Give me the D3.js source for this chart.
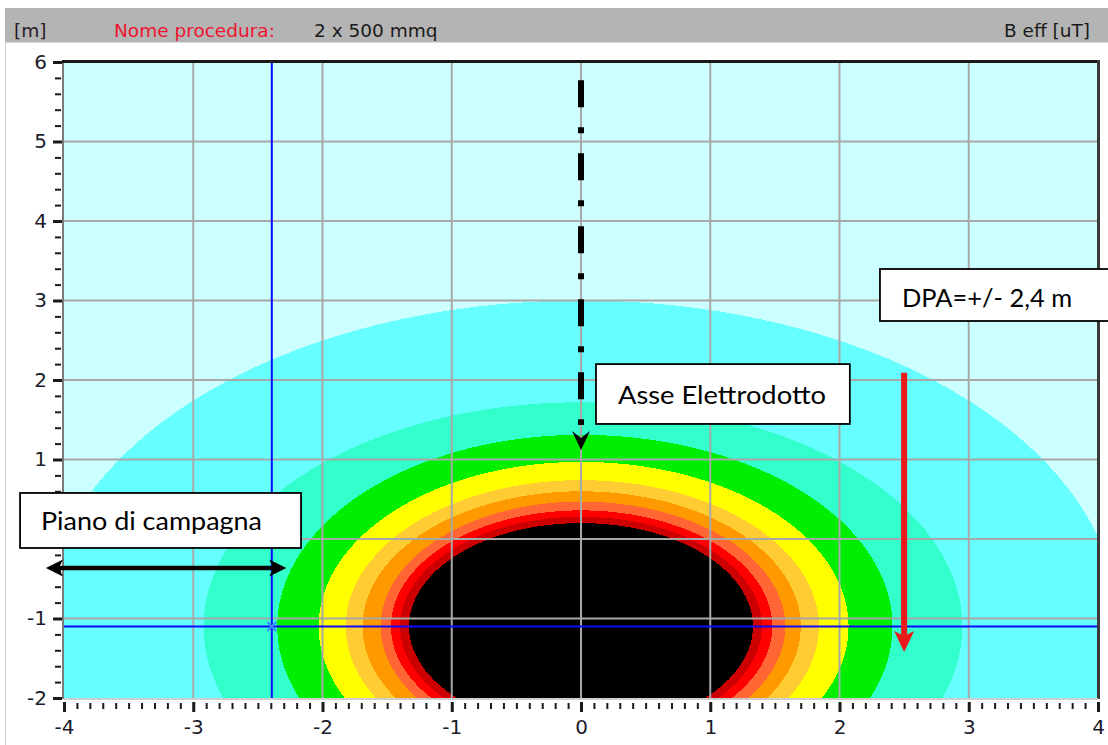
<!DOCTYPE html>
<html>
<head>
<meta charset="utf-8">
<script src="https://cdn.jsdelivr.net/npm/d3@7"></script>
<style>
  html, body { margin: 0; padding: 0; background: #fff; }
  svg { display: block; }
</style>
</head>
<body>
<svg id="chart" width="1108" height="745"></svg>
<script>
// ---- axis ticks (m) ----
const xTicks = [-4, -3, -2, -1, 0, 1, 2, 3, 4];
const yTicks = [-2, -1, 0, 1, 2, 3, 4, 5, 6];

// ---- B eff bands, outermost to innermost ----
// top edge of each band above the line axis (m) and its half-width at cable depth, left / right (m)
const bandColors = ["#66ffff", "#33ffcc", "#00ee00", "#ffff00", "#ffcc33", "#ff9900", "#ff6633", "#ff0000", "#cc0000", "#000000"];
const bandTop    = [3.00, 1.72, 1.31, 0.97, 0.74, 0.60, 0.47, 0.36, 0.28, 0.20];
const bandLeft   = [4.16, 2.92, 2.35, 2.03, 1.82, 1.69, 1.55, 1.47, 1.40, 1.33];
const bandRight  = [4.16, 2.95, 2.41, 2.07, 1.84, 1.70, 1.58, 1.48, 1.40, 1.33];
const cableDepth = -1.1;

// ---- cursor ----
const cursorX = -2.4;
const cursorY = -1.1;

// ---- header ----
const headerUnit = "[m]";
const headerName = "Nome procedura:";
const headerValue = "2 x 500 mmq";
const headerQty = "B eff [uT]";

// ---- annotations (m) ----
const axisLabel = "Asse Elettrodotto";
const dpaLabel = "DPA=+/- 2,4 m";
const groundLabel = "Piano di campagna";
const axisArrow = { x: 0, y0: 5.77, y1: 1.12 };
const dpaArrow = { x: 2.5, y0: 2.09, y1: -1.42 };
const groundArrow = { y: -0.365, x0: -4.14, x1: -2.28 };

const svg = d3.select("#chart");
const W = 1108, H = 745;

const x = d3.scaleLinear().domain([-4, 4]).range([64, 1098]);
const y = d3.scaleLinear().domain([-2, 6]).range([698, 62]);

// ---- window chrome ----
svg.append("rect").attr("x", 0).attr("y", 0).attr("width", W).attr("height", H).attr("fill", "#fff");
svg.append("rect").attr("x", 5).attr("y", 8).attr("width", W - 5).attr("height", 34).attr("fill", "#b4b4b4");
svg.append("line").attr("x1", 5).attr("x2", W).attr("y1", 42.5).attr("y2", 42.5).attr("stroke", "#dcdcdc");
svg.append("line").attr("x1", 5.5).attr("x2", 5.5).attr("y1", 42).attr("y2", H).attr("stroke", "#d0d0d0");

const hdrFont = "'DejaVu Sans', sans-serif";
const hdr = svg.append("g").attr("font-family", hdrFont).attr("font-size", 18.5);
hdr.append("text").attr("x", 14).attr("y", 37).attr("fill", "#2a1a2a").text(headerUnit);
hdr.append("text").attr("x", 114).attr("y", 37).attr("fill", "#ee1530").text(headerName);
hdr.append("text").attr("x", 314).attr("y", 37).attr("fill", "#1a1a1a").text(headerValue);
hdr.append("text").attr("x", 1090).attr("y", 37).attr("text-anchor", "end").attr("fill", "#1a1a1a").text(headerQty);

// ---- plot area ----
const defs = svg.append("defs");
defs.append("clipPath").attr("id", "plotClip")
  .append("rect").attr("x", x(-4)).attr("y", y(6)).attr("width", x(4) - x(-4)).attr("height", y(-2) - y(6));

const plot = svg.append("g").attr("clip-path", "url(#plotClip)");
plot.append("rect").attr("x", x(-4)).attr("y", y(6)).attr("width", x(4) - x(-4)).attr("height", y(-2) - y(6)).attr("fill", "#ccffff");

const line = d3.line().x(d => x(d[0])).y(d => y(d[1]));
const bands = bandColors.map((c, i) => ({ color: c, top: bandTop[i], left: bandLeft[i], right: bandRight[i] }));
plot.selectAll("path.band").data(bands).join("path")
  .attr("class", "band")
  .attr("fill", d => d.color)
  .attr("shape-rendering", "crispEdges")
  .attr("d", d => {
    const b = d.top - cableDepth;
    const pts = d3.range(0, 360, 1).map(deg => {
      const t = deg * Math.PI / 180, c = Math.cos(t), s = Math.sin(t);
      return [(c >= 0 ? d.right : d.left) * c, cableDepth + b * s];
    });
    return line(pts) + "Z";
  });

// grid
const gridColor = "#a8a8a8";
plot.selectAll("line.gx").data(xTicks.slice(1, -1)).join("line")
  .attr("class", "gx").attr("x1", d => x(d)).attr("x2", d => x(d))
  .attr("y1", y(6)).attr("y2", y(-2)).attr("stroke", gridColor).attr("stroke-width", 2);
plot.selectAll("line.gy").data(yTicks.slice(1, -1)).join("line")
  .attr("class", "gy").attr("y1", d => y(d)).attr("y2", d => y(d))
  .attr("x1", x(-4)).attr("x2", x(4)).attr("stroke", gridColor).attr("stroke-width", 2);

// cursor
plot.append("line").attr("x1", x(cursorX) + 1).attr("x2", x(cursorX) + 1).attr("y1", y(6)).attr("y2", y(-2))
  .attr("stroke", "#0a0aff").attr("stroke-width", 2);
plot.append("line").attr("x1", x(-4)).attr("x2", x(4)).attr("y1", y(cursorY)).attr("y2", y(cursorY))
  .attr("stroke", "#0a0aff").attr("stroke-width", 2);
const cx = x(cursorX) + 1, cy = y(cursorY);
plot.append("path").attr("d", `M${cx - 4.5},${cy - 4.5}L${cx + 4.5},${cy + 4.5}M${cx - 4.5},${cy + 4.5}L${cx + 4.5},${cy - 4.5}`)
  .attr("stroke", "#3a8cff").attr("stroke-width", 2).attr("fill", "none");

// frame
svg.append("line").attr("x1", x(-4) - 1).attr("x2", x(-4) - 1).attr("y1", y(6)).attr("y2", y(-2) + 1)
  .attr("stroke", "#7a7a7a").attr("stroke-width", 2);
svg.append("line").attr("x1", x(-4) - 2).attr("x2", x(4) + 2).attr("y1", y(6) - 0.5).attr("y2", y(6) - 0.5)
  .attr("stroke", "#1a1a1a").attr("stroke-width", 3);
svg.append("line").attr("x1", x(4) + 0.5).attr("x2", x(4) + 0.5).attr("y1", y(6) - 2).attr("y2", y(-2) + 1)
  .attr("stroke", "#3a3a3a").attr("stroke-width", 3);
svg.append("line").attr("x1", x(-4)).attr("x2", x(4)).attr("y1", y(-2) + 1).attr("y2", y(-2) + 1)
  .attr("stroke", "#cfcfcf").attr("stroke-width", 2);

// ---- axes ----
const tickFont = "'DejaVu Sans', sans-serif";
const fmt = d => String(d);
const yMinor = d3.range(-20, 61, 2).filter(v => v % 10 !== 0).map(v => v / 10);
const xMinor = d3.range(-40, 41, 1).filter(v => v % 10 !== 0).map(v => v / 10);

const yAxis = svg.append("g").attr("transform", `translate(${x(-4) - 2},0)`)
  .call(d3.axisLeft(y).tickValues(yTicks).tickSize(9).tickPadding(6).tickFormat(fmt));
yAxis.select(".domain").remove();
yAxis.selectAll(".tick line").attr("stroke", "#1a1a1a").attr("stroke-width", 3);
yAxis.selectAll(".tick text").attr("font-family", tickFont).attr("font-size", 20).attr("fill", "#1c1c2c");

const yAxisMinor = svg.append("g").attr("transform", `translate(${x(-4) - 3},0)`)
  .call(d3.axisLeft(y).tickValues(yMinor).tickSize(6).tickFormat(""));
yAxisMinor.select(".domain").remove();
yAxisMinor.selectAll(".tick line").attr("stroke", "#1a1a1a").attr("stroke-width", 2);

const xAxis = svg.append("g").attr("transform", `translate(0,${y(-2) + 4})`)
  .call(d3.axisBottom(x).tickValues(xTicks).tickSize(10).tickPadding(8).tickFormat(fmt));
xAxis.select(".domain").remove();
xAxis.selectAll(".tick line").attr("stroke", "#1a1a1a").attr("stroke-width", 3);
xAxis.selectAll(".tick text").attr("font-family", tickFont).attr("font-size", 20).attr("fill", "#1c1c2c");

const xAxisMinor = svg.append("g").attr("transform", `translate(0,${y(-2) + 5})`)
  .call(d3.axisBottom(x).tickValues(xMinor).tickSize(6).tickFormat(""));
xAxisMinor.select(".domain").remove();
xAxisMinor.selectAll(".tick line").attr("stroke", "#1a1a1a").attr("stroke-width", 2);

// ---- annotations ----
const noteFont = "Lato, 'Open Sans', sans-serif";
const notes = svg.append("g");

// line axis marker (dash-dot) with arrowhead
const ax = x(axisArrow.x), ayTip = y(axisArrow.y1);
notes.append("line").attr("x1", ax).attr("x2", ax).attr("y1", y(axisArrow.y0)).attr("y2", ayTip - 25)
  .attr("stroke", "#000").attr("stroke-width", 6).attr("stroke-dasharray", "27,20,6,20");
notes.append("path")
  .attr("d", `M${ax},${ayTip}L${ax - 9},${ayTip - 19}L${ax},${ayTip - 12}L${ax + 9},${ayTip - 19}Z`)
  .attr("fill", "#000");

// DPA arrow
const rx = x(dpaArrow.x), ryTip = y(dpaArrow.y1);
notes.append("line").attr("x1", rx).attr("x2", rx).attr("y1", y(dpaArrow.y0)).attr("y2", ryTip - 14)
  .attr("stroke", "#ea1a1a").attr("stroke-width", 6);
notes.append("path")
  .attr("d", `M${rx},${ryTip}L${rx - 10},${ryTip - 21}L${rx},${ryTip - 16}L${rx + 10},${ryTip - 21}Z`)
  .attr("fill", "#ea1a1a");

// ground level double arrow
const gy = y(groundArrow.y), gx0 = x(groundArrow.x0), gx1 = x(groundArrow.x1);
notes.append("line").attr("x1", gx0 + 10).attr("x2", gx1 - 10).attr("y1", gy).attr("y2", gy)
  .attr("stroke", "#000").attr("stroke-width", 4.5);
notes.append("path")
  .attr("d", `M${gx0},${gy}L${gx0 + 17},${gy - 8.5}L${gx0 + 13},${gy}L${gx0 + 17},${gy + 8.5}Z` +
             `M${gx1},${gy}L${gx1 - 17},${gy - 8.5}L${gx1 - 13},${gy}L${gx1 - 17},${gy + 8.5}Z`)
  .attr("fill", "#000");

// label boxes (the ground-level box sits over the y = 0 tick, so that label is left out)
yAxis.selectAll(".tick").filter(d => d === 0).select("text").remove();
const boxes = [
  { text: axisLabel,   x0: 0.116, x1: 2.08,  yTop: 2.20,  yBot: 1.447, tx: 0.286, ty: 1.70,  w: 208 },
  { text: dpaLabel,    x0: 2.313, x1: 4.20,  yTop: 3.396, yBot: 2.742, tx: 2.484, ty: 2.918, w: 170 },
  { text: groundLabel, x0: -4.34, x1: -2.166, yTop: 0.579, yBot: -0.113, tx: -4.178, ty: 0.113, w: 221 }
];
const bg = notes.selectAll("g.note").data(boxes).join("g").attr("class", "note");
bg.append("rect")
  .attr("x", d => x(d.x0)).attr("y", d => y(d.yTop))
  .attr("width", d => x(d.x1) - x(d.x0)).attr("height", d => y(d.yBot) - y(d.yTop))
  .attr("fill", "#fff").attr("stroke", "#000").attr("stroke-width", 1.8);
bg.append("text")
  .attr("x", d => x(d.tx)).attr("y", d => y(d.ty))
  .attr("font-family", noteFont).attr("font-size", 25).attr("fill", "#000")
  .attr("textLength", d => d.w).attr("lengthAdjust", "spacingAndGlyphs")
  .text(d => d.text);
</script>
</body>
</html>
